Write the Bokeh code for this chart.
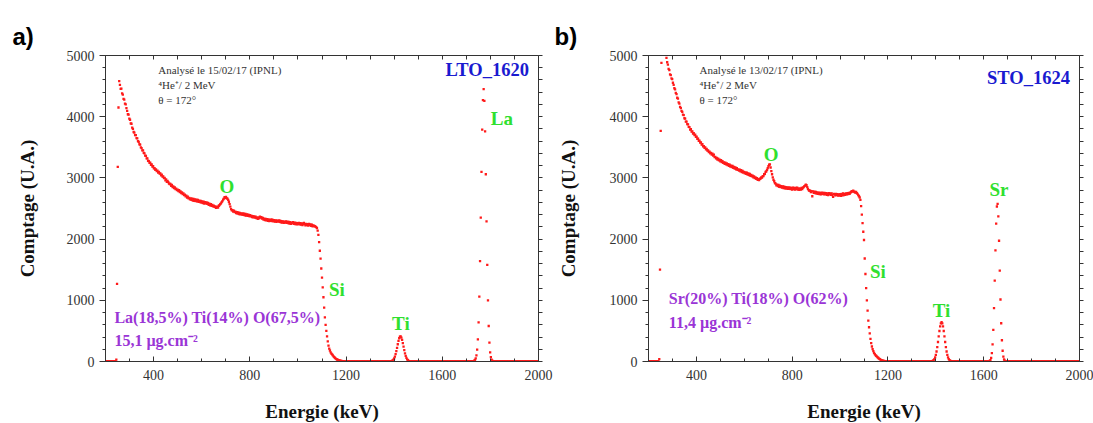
import numpy as np
from bokeh.plotting import figure
from bokeh.models import (LinearAxis, SingleIntervalTicker, FixedTicker, Label,
                          Range1d, Title)
from bokeh.layouts import row
from bokeh.embed import file_html
from bokeh.resources import INLINE

# ---------------- data ----------------
E_MIN, E_MAX = 200, 2000          # keV
CHANNEL_KEV = 3.0                 # channel width of the spectra
C_MAX = 5000

x_label = "Energie (keV)"
y_label = "Comptage (U.A.)"

# --- a) LTO_1620 : segments (start energy keV, counts per channel) ---
a_rise_start = 245
a_rise = [30, 1270, 3180, 4150, 4580]
a_cont_start = 260
a_cont = [
    4520, 4455, 4460, 4380, 4360, 4290, 4280, 4215, 4200, 4140,
    4095, 4040, 4035, 3970, 3950, 3890, 3885, 3820, 3800, 3750,
    3740, 3700, 3700, 3650, 3645, 3600, 3590, 3550, 3545, 3500,
    3485, 3450, 3450, 3410, 3400, 3365, 3360, 3320, 3320, 3280,
    3275, 3245, 3250, 3215, 3220, 3185, 3190, 3155, 3160, 3130,
    3140, 3110, 3120, 3085, 3100, 3070, 3075, 3040, 3055, 3020,
    3025, 2995, 3000, 2960, 2975, 2935, 2950, 2930, 2905, 2900,
    2900, 2870, 2885, 2850, 2860, 2835, 2845, 2815, 2825, 2800,
    2810, 2785, 2800, 2770, 2780, 2750, 2765, 2735, 2745, 2720,
    2725, 2700, 2710, 2680, 2695, 2665, 2675, 2650, 2665, 2640,
    2660, 2630, 2655, 2625, 2650, 2620, 2645, 2615, 2640, 2610,
    2630, 2605, 2625, 2595, 2615, 2590, 2610, 2580, 2605, 2585,
    2600, 2575, 2590, 2560, 2580, 2550, 2570, 2545, 2560, 2535,
    2545, 2525, 2535, 2510, 2520, 2530, 2515, 2545, 2555, 2570,
    2585, 2605, 2620, 2645, 2660, 2685, 2675, 2690, 2665, 2660,
    2640, 2610, 2570, 2530, 2490, 2470, 2475, 2450, 2465, 2440,
    2450, 2425, 2440, 2415, 2435, 2410, 2430, 2405, 2420, 2400,
    2420, 2395, 2415, 2390, 2410, 2385, 2405, 2380, 2400, 2375,
    2390, 2370, 2385, 2360, 2375, 2355, 2370, 2350, 2365, 2345,
    2350, 2330, 2355, 2340, 2365, 2350, 2360, 2335, 2345, 2320,
    2335, 2310, 2330, 2305, 2325, 2300, 2320, 2295, 2315, 2300,
    2320, 2295, 2315, 2290, 2310, 2285, 2305, 2280, 2300, 2290,
    2305, 2280, 2300, 2275, 2295, 2270, 2290, 2265, 2285, 2270,
    2290, 2265, 2285, 2260, 2280, 2255, 2275, 2250, 2270, 2260,
    2275, 2250, 2270, 2245, 2265, 2240, 2260, 2245, 2265, 2240,
    2260, 2235, 2255, 2230, 2250, 2265, 2245, 2225, 2250, 2230,
    2245, 2220, 2250, 2230, 2240, 2215, 2235, 2210, 2225, 2215,
    2210, 2205, 2195, 2180, 2140, 2070, 1950, 1810, 1680, 1520,
    1370, 1210, 1050, 880, 720, 600, 500, 410, 330, 260,
    210, 180, 150, 130, 115, 100, 85, 70, 58, 48,
    40, 33, 27, 22, 17, 13, 10, 8, 6, 4,
    3, 2, 1, 0, 0, 0, 0, 0, 0, 0,
]
a_ti_start = 1382
a_ti = [1, 2, 5, 9, 17, 30, 50, 80, 119, 168, 224, 282, 337, 380, 406,
        410, 391, 353, 301, 243, 186, 134, 91, 59, 36, 21, 11, 6, 3, 1]
a_la_start = 1727
a_la = [3, 6, 12, 25, 50, 100, 195, 360, 640, 1060, 1640, 2350, 3100, 3790, 4270,
        4450, 4260, 3760, 3060, 2290, 1580, 1000, 580, 310, 150, 70, 30, 12, 5, 2, 1]

# --- b) STO_1624 ---
b_rise_start = 245
b_rise = [40, 1500, 3770, 4880, 5060, 5090, 5100, 5090, 5070, 5040]
b_cont_start = 275
b_cont = [
    4960, 4890, 4850, 4780, 4760, 4690, 4680, 4625, 4615, 4555,
    4520, 4465, 4445, 4390, 4370, 4310, 4295, 4235, 4215, 4160,
    4140, 4095, 4080, 4035, 4025, 3975, 3970, 3920, 3920, 3880,
    3875, 3835, 3830, 3790, 3795, 3755, 3760, 3725, 3730, 3700,
    3705, 3670, 3675, 3640, 3640, 3605, 3610, 3575, 3580, 3545,
    3550, 3515, 3520, 3490, 3500, 3465, 3475, 3445, 3450, 3420,
    3430, 3400, 3410, 3380, 3395, 3365, 3380, 3340, 3345, 3320,
    3325, 3300, 3315, 3285, 3300, 3270, 3290, 3260, 3275, 3245,
    3255, 3230, 3250, 3220, 3235, 3210, 3225, 3195, 3215, 3185,
    3200, 3175, 3195, 3165, 3180, 3150, 3170, 3140, 3160, 3130,
    3140, 3120, 3135, 3105, 3125, 3095, 3115, 3085, 3100, 3075,
    3090, 3065, 3085, 3055, 3075, 3045, 3065, 3035, 3050, 3025,
    3035, 3010, 3025, 2995, 3010, 2985, 2995, 2970, 2980, 2965,
    2985, 2990, 3010, 3005, 3030, 3030, 3060, 3065, 3100, 3105,
    3130, 3160, 3190, 3215, 3220, 3170, 3110, 3060, 3010, 2970,
    2945, 2915, 2905, 2880, 2890, 2865, 2885, 2855, 2875, 2850,
    2865, 2840, 2860, 2835, 2855, 2830, 2850, 2825, 2845, 2820,
    2845, 2820, 2840, 2815, 2835, 2810, 2840, 2815, 2835, 2810,
    2835, 2815, 2840, 2810, 2830, 2805, 2825, 2810, 2835, 2815,
    2840, 2850, 2865, 2875, 2890, 2880, 2850, 2820, 2800, 2790,
    2790, 2770, 2785, 2700, 2780, 2755, 2775, 2750, 2770, 2745,
    2765, 2740, 2760, 2735, 2755, 2730, 2760, 2740, 2755, 2730,
    2755, 2735, 2750, 2725, 2745, 2720, 2750, 2730, 2745, 2725,
    2745, 2720, 2690, 2740, 2735, 2715, 2740, 2720, 2735, 2710,
    2730, 2710, 2735, 2705, 2740, 2715, 2745, 2720, 2740, 2725,
    2745, 2730, 2750, 2735, 2755, 2740, 2760, 2770, 2785, 2775,
    2790, 2775, 2770, 2760, 2770, 2750, 2740, 2720, 2700, 2680,
    2640, 2540, 2400, 2260, 2120, 1985, 1683, 1430, 1200, 998,
    830, 669, 560, 460, 370, 300, 245, 203, 170, 140,
    120, 103, 93, 80, 68, 57, 47, 38, 30, 24,
    19, 15, 11, 8, 6, 4, 3, 2, 1, 0,
]
b_ti_start = 1379
b_ti = [1, 3, 6, 12, 22, 39, 67, 107, 163, 234, 319, 410, 498, 573, 623,
        641, 623, 573, 498, 410, 319, 234, 163, 107, 67, 39, 22, 12, 6, 3, 1]
b_sr_start = 1619
b_sr = [1, 3, 9, 24, 60, 137, 281, 518, 871, 1323, 1815, 2254, 2533,
        2576, 2370, 1973, 1486, 1013, 625, 347, 176, 80, 33, 12, 4, 1]

a_header = ["Analysé le 15/02/17 (IPNL)", "⁴He⁺/ 2 MeV", "θ = 172°"]
b_header = ["Analysé le 13/02/17 (IPNL)", "⁴He⁺/ 2 MeV", "θ = 172°"]
a_sample, b_sample = "LTO_1620", "STO_1624"
a_comp = ["La(18,5%) Ti(14%) O(67,5%)", "15,1 µg.cm⁻²"]
b_comp = ["Sr(20%) Ti(18%) O(62%)", "11,4 µg.cm⁻²"]
a_elements = [("O", 705, 2864), ("Si", 1162, 1172), ("Ti", 1428, 616), ("La", 1848, 3966)]
b_elements = [("O", 712, 3377), ("Si", 1158, 1475), ("Ti", 1424, 833), ("Sr", 1664, 2806)]

# ---------------- styling ----------------
SERIF = "Liberation Serif"
RED = "#ff1a1a"
GREEN = "#2fe02f"
PURPLE = "#9a35d6"
BLUE = "#1a1ad0"
AXIS_C = "#333333"
FRAME_H = 306
FIG_TOP = 55
FIG_BOTTOM = 62


def spectrum(segments):
    n = int(round((E_MAX - E_MIN) / CHANNEL_KEV)) + 1
    counts = np.zeros(n)
    for start, vals in segments:
        i0 = int(round((start - E_MIN) / CHANNEL_KEV))
        counts[i0:i0 + len(vals)] = vals
    energy = E_MIN + CHANNEL_KEV * np.arange(n)
    return energy, counts


def base_axis(ax):
    ax.axis_line_color = AXIS_C
    ax.major_tick_line_color = AXIS_C
    ax.minor_tick_line_color = AXIS_C


def style_bottom(ax):
    base_axis(ax)
    ax.ticker = SingleIntervalTicker(interval=400, num_minor_ticks=4)
    ax.major_tick_in, ax.major_tick_out = 5, 0
    ax.minor_tick_in, ax.minor_tick_out = 3, 0
    ax.major_label_text_font = SERIF
    ax.major_label_text_font_size = "14px"
    ax.major_label_text_color = AXIS_C
    ax.major_label_standoff = 8
    ax.axis_label = x_label
    ax.axis_label_text_font = SERIF
    ax.axis_label_text_font_size = "19px"
    ax.axis_label_text_font_style = "bold"
    ax.axis_label_text_color = "#111111"
    ax.axis_label_standoff = 18


def style_left(ax, standoff):
    base_axis(ax)
    ax.ticker = SingleIntervalTicker(interval=1000, num_minor_ticks=5)
    ax.major_tick_in, ax.major_tick_out = 0, 6
    ax.minor_tick_in, ax.minor_tick_out = 0, 3
    ax.major_label_text_font = SERIF
    ax.major_label_text_font_size = "14px"
    ax.major_label_text_color = AXIS_C
    ax.major_label_standoff = 5
    ax.axis_label = y_label
    ax.axis_label_text_font = SERIF
    ax.axis_label_text_font_size = "19px"
    ax.axis_label_text_font_style = "bold"
    ax.axis_label_text_color = "#111111"
    ax.axis_label_standoff = standoff


def mirror_axis(side):
    # tick-only mirror axis (no labels): ticks given as minor ticks
    if side == "above":
        marks = list(range(E_MIN, E_MAX + 1, 100))
    else:
        marks = list(range(0, C_MAX + 1, 200))
    ax = LinearAxis(ticker=FixedTicker(ticks=[], minor_ticks=marks))
    base_axis(ax)
    ax.major_label_standoff = 0
    ax.major_tick_in = ax.major_tick_out = 0
    if side == "above":
        ax.minor_tick_in, ax.minor_tick_out = 4, 0
    else:
        ax.minor_tick_in, ax.minor_tick_out = 0, 4
    return ax


def lab(p, x, y, text, size, color, style="normal", align="left",
        baseline="middle", font=SERIF):
    p.add_layout(Label(x=x, y=y, text=text, text_font=font, text_font_size=size,
                       text_color=color, text_font_style=style,
                       text_align=align, text_baseline=baseline))


def panel(segments, letter, letter_off, header, header_x, sample, sample_y,
          comp, comp_x, comp_y, elements, left, right, fwidth, ystandoff):
    p = figure(frame_width=fwidth, frame_height=FRAME_H,
               min_border_left=left, min_border_right=right,
               min_border_top=FIG_TOP, min_border_bottom=FIG_BOTTOM,
               x_range=Range1d(E_MIN, E_MAX), y_range=Range1d(0, C_MAX),
               output_backend="svg", toolbar_location=None, tools="")
    p.outline_line_color = None
    p.xgrid.grid_line_color = None
    p.ygrid.grid_line_color = None
    p.background_fill_color = "white"
    p.border_fill_color = "white"

    p.title = Title(text=letter, align="left", offset=letter_off, standoff=12,
                    text_font="Liberation Sans", text_font_size="24px",
                    text_font_style="bold", text_color="#000000")

    style_bottom(p.xaxis[0])
    style_left(p.yaxis[0], ystandoff)
    p.add_layout(mirror_axis("above"), "above")
    p.add_layout(mirror_axis("right"), "right")

    e, c = spectrum(segments)
    p.scatter(e, c, marker="square", size=2.3, color=RED, line_width=0)

    for i, t in enumerate(header):
        lab(p, header_x, 4755 - 245 * i, t, "11px", "#333333")
    lab(p, 1960, sample_y, sample, "18.5px", BLUE, "bold", align="right")
    for t, x, y in elements:
        lab(p, x, y, t, "19px", GREEN, "bold", align="center")
    lab(p, comp_x, comp_y[0], comp[0], "16px", PURPLE, "bold")
    lab(p, comp_x, comp_y[1], comp[1], "16px", PURPLE, "bold")
    return p


pa = panel([(a_rise_start, a_rise), (a_cont_start, a_cont), (a_ti_start, a_ti),
            (a_la_start, a_la)],
           "a)", -93, a_header, 419, a_sample, 4766, a_comp, 237, (711, 343),
           a_elements, 105, 15, 433, 26)
pb = panel([(b_rise_start, b_rise), (b_cont_start, b_cont), (b_ti_start, b_ti),
            (b_sr_start, b_sr)],
           "b)", -94, b_header, 413, b_sample, 4636, b_comp, 285, (1034, 642),
           b_elements, 95, 14, 431, 28)

layout = row(pa, pb)
open("out.html", "w").write(file_html(layout, INLINE))
